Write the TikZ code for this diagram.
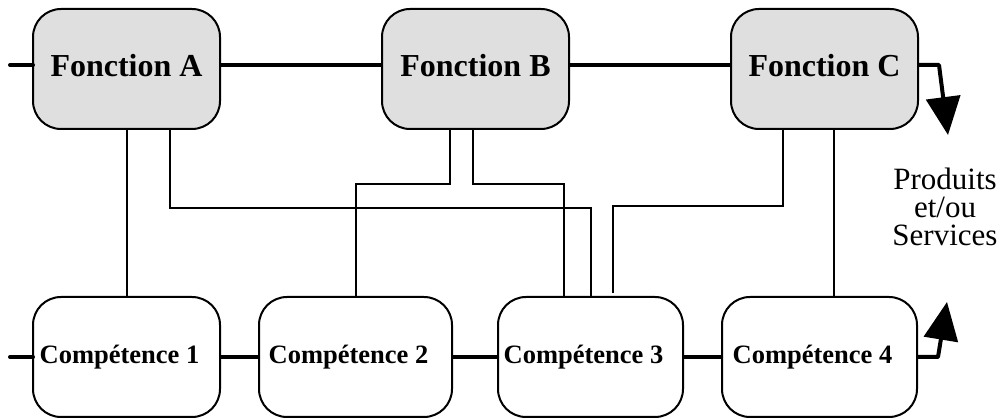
\documentclass[tikz,border=0pt]{standalone}
\usepackage{fontspec}
\setmainfont{Liberation Serif}
\usetikzlibrary{positioning}
\usetikzlibrary{arrows.meta}

\begin{document}
\begin{tikzpicture}[x=1pt, y=-1pt,
                          fonctionnode/.style={rectangle, draw, fill=gray!25, line width=2pt, rounded corners=28pt, minimum width=187pt, minimum height=120pt, outer sep=0pt, text depth=8pt, font=\fontsize{32}{36}\selectfont\bfseries},
                          competencenode/.style={rectangle, draw, fill=white, line width=2pt, rounded corners=28pt, minimum width=187pt, minimum height=120pt, outer sep=0pt, font=\fontsize{26.5}{30}\selectfont\bfseries, execute at end node={\hspace*{14pt}}},
                          mainline/.style={line width=4pt},
                          linkline/.style={line width=2pt},
                          outarrow/.style={mainline, line join=round, -{Triangle[length=38pt, width=34pt]}},
                      ]
                      \useasboundingbox (0,0) rectangle (1002,419);
                      % Nodes
                      \node[fonctionnode]        (fa)      at (126.5,69)          {Fonction A};
                      \node[fonctionnode]        (fb)      [right=162pt of fa]    {Fonction B};
                      \node[fonctionnode]        (fc)      [right=162pt of fb]    {Fonction C};

                      \node[competencenode]      (c1)      [below=168pt of fa]    {Compétence 1};
                      \node[competencenode, minimum width=193pt]      (c2)      [right=39pt of c1]    {Compétence 2};
                      \node[competencenode, minimum width=185pt]      (c3)      [right=46pt of c2]    {Compétence 3};
                      \node[competencenode, minimum width=195pt]      (c4)      [right=39pt of c3]    {Compétence 4};

                      \node[font=\fontsize{31}{28}\selectfont, align=center]      (produits)      at (945,206.5)    {Produits\\et/ou\\Services};

                      \coordinate (topstart) at (10,65);
                      \coordinate (topturn)  at (939,65);
                      \coordinate (toptip)   at (948,135);
                      \coordinate (botstart) at (10,357);
                      \coordinate (botturn)  at (938,357);
                      \coordinate (bottip)   at (947,302);

                      %Lines
                      \draw[mainline, line cap=round] (topstart) -- ([yshift=4pt]fa.west);
                      \draw[mainline] ([yshift=4pt]fa.east) -- ([yshift=4pt]fb.west);
                      \draw[mainline] ([yshift=4pt]fb.east) -- ([yshift=4pt]fc.west);
                      \draw[outarrow] ([yshift=4pt]fc.east) -- (topturn) -- (toptip);

                      \draw[mainline, line cap=round] (botstart) -- (c1.west);
                      \draw[mainline] (c1.east) -- (c2.west);
                      \draw[mainline] (c2.east) -- (c3.west);
                      \draw[mainline] (c3.east) -- (c4.west);
                      \draw[outarrow] (c4.east) -- (botturn) -- (bottip);

                      \draw[linkline] (fa.south) -- (c1.north);
                      \draw[linkline] ([xshift=43.5pt]fa.south) -- ++(0,79) -| (c3.north);
                      \draw[linkline] ([xshift=-26pt]fb.south) -- ++(0,55) -| (c2.north);
                      \draw[linkline] ([xshift=-3pt]fb.south) -- ++(0,55) -| ([xshift=-26.5pt]c3.north);
                      \draw[linkline] ([xshift=-42pt]fc.south) -- ++(0,77) -| ([xshift=22.5pt, yshift=4pt]c3.north);
                      \draw[linkline] ([xshift=9pt]fc.south) -- ([xshift=9pt]fc.south |- c4.north);
                  \end{tikzpicture}
\end{document}
